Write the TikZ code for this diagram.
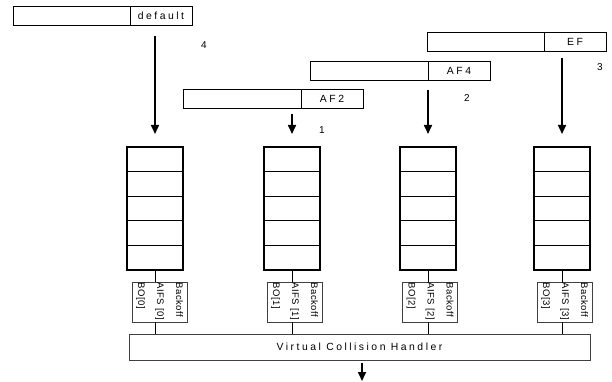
\documentclass[tikz,border=0pt]{standalone}
\usepackage{fontspec}
\setmainfont{Liberation Sans}
\newfontfamily\wide[LetterSpace=24]{Liberation Sans}
\newfontfamily\semiwide[LetterSpace=6]{Liberation Sans}
\usetikzlibrary{positioning,%
	arrows.meta%
}
\tikzset{
	feed/.style={line width=1.6pt, -{Triangle[length=9pt, width=8pt]}},
	link/.style={line width=0.6pt}
}

\begin{document}
\begin{tikzpicture}[x=1pt, y=-1pt, font=\fontsize{10}{12}\selectfont]
	\useasboundingbox (0,0) rectangle (612,382);
	% traffic classes
	\begin{scope}[every node/.style={draw, rectangle, outer sep=0pt, inner sep=0pt,
		minimum height=19pt, line width=0.6pt}]
	\node[minimum width=117pt] (D) at (71.5,15.5) {};
	\node[minimum width=62pt, right=0pt of D, font=\wide\fontsize{10.4}{12}\selectfont] (DT) {default};
	\node[minimum width=117pt] (E) at (485.5,41.5) {};
	\node[minimum width=62pt, right=0pt of E, font=\wide\fontsize{10.4}{12}\selectfont] (ET) {EF};
	\node[minimum width=118pt] (F4) at (369,70.5) {};
	\node[minimum width=62pt, right=0pt of F4, font=\wide\fontsize{10.4}{12}\selectfont] (F4T) {AF4};
	\node[minimum width=118pt] (F2) at (242,98.5) {};
	\node[minimum width=62pt, right=0pt of F2, font=\wide\fontsize{10.4}{12}\selectfont] (F2T) {AF2};
	\end{scope}

	\begin{scope}[every node/.style={inner sep=0pt}]
	\node (N4) at (204,45) {4};
	\node (N3) at (600,67) {3};
	\node (N2) at (467,98) {2};
	\node (N1) at (322,130) {1};
	\end{scope}

	% queues
	\begin{scope}[every node/.style={draw, rectangle, outer sep=0pt, inner sep=0pt,
		minimum width=56pt, minimum height=24.6pt, line width=1.2pt}]
	\node (Q0a) at (155,159.3) {};
	\node[below=0pt of Q0a] (Q0b) {};
	\node[below=0pt of Q0b] (Q0c) {};
	\node[below=0pt of Q0c] (Q0d) {};
	\node[below=0pt of Q0d] (Q0e) {};
	\node (Q1a) at (292,159.3) {};
	\node[below=0pt of Q1a] (Q1b) {};
	\node[below=0pt of Q1b] (Q1c) {};
	\node[below=0pt of Q1c] (Q1d) {};
	\node[below=0pt of Q1d] (Q1e) {};
	\node (Q2a) at (428,159.3) {};
	\node[below=0pt of Q2a] (Q2b) {};
	\node[below=0pt of Q2b] (Q2c) {};
	\node[below=0pt of Q2c] (Q2d) {};
	\node[below=0pt of Q2d] (Q2e) {};
	\node (Q3a) at (562,159.3) {};
	\node[below=0pt of Q3a] (Q3b) {};
	\node[below=0pt of Q3b] (Q3c) {};
	\node[below=0pt of Q3c] (Q3d) {};
	\node[below=0pt of Q3d] (Q3e) {};
	\end{scope}

	% arrival arrows
	\coordinate (S0) at (155,36);
	\coordinate (S1) at (292,114);
	\coordinate (S2) at (428,90);
	\coordinate (S3) at (562,58);
	\draw[feed] (S0) -- ([yshift=13pt]Q0a.north);
	\draw[feed] (S1) -- ([yshift=13pt]Q1a.north);
	\draw[feed] (S2) -- ([yshift=13pt]Q2a.north);
	\draw[feed] (S3) -- ([yshift=13pt]Q3a.north);

	% backoff entities
	\begin{scope}[every node/.style={draw=black!75, rectangle, rotate=-90, line width=0.6pt,
		minimum width=40pt, minimum height=55pt, text width=39pt, inner sep=0.5pt,
		align=left, font=\semiwide\fontsize{9.5}{19}\selectfont}]
	\node (B0) at (159.5,302) {Backoff\\AIFS~[0]\\BO[0]};
	\node (B1) at (294.5,302) {Backoff\\AIFS~[1]\\BO[1]};
	\node (B2) at (430,302) {Backoff\\AIFS~[2]\\BO[2]};
	\node (B3) at (564.5,302) {Backoff\\AIFS~[3]\\BO[3]};
	\end{scope}

	\node[draw=black!75, line width=0.6pt, minimum width=461pt, minimum height=26pt,
		font=\wide\fontsize{10.4}{12}\selectfont] (V) at (359.5,347) {Virtual Collision Handler};

	\draw[link] (Q0e.south) -- (Q0e.south |- B0.west);
	\draw[link] (Q1e.south) -- (Q1e.south |- B1.west);
	\draw[link] (Q2e.south) -- (Q2e.south |- B2.west);
	\draw[link] (Q3e.south) -- (Q3e.south |- B3.west);
	\draw[link] (Q0e.south |- B0.east) -- (Q0e.south |- V.north);
	\draw[link] (Q1e.south |- B1.east) -- (Q1e.south |- V.north);
	\draw[link] (Q2e.south |- B2.east) -- (Q2e.south |- V.north);
	\draw[link] (Q3e.south |- B3.east) -- (Q3e.south |- V.north);

	\coordinate (O) at (362,381);
	\draw[feed] ([yshift=-3pt]V.south -| O) -- (O);
\end{tikzpicture}
\end{document}
